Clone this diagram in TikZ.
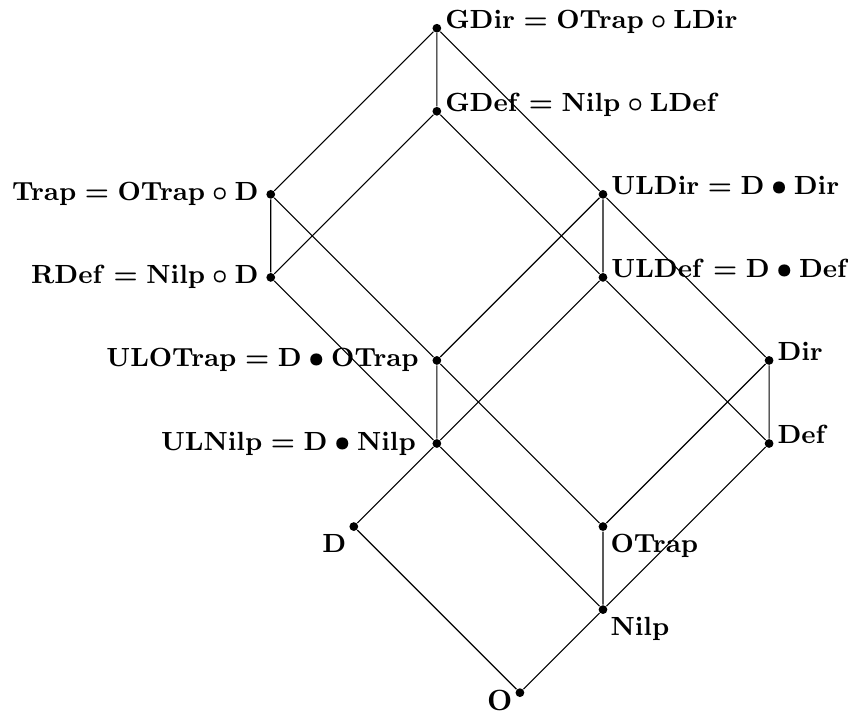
\documentclass[tikz,border=0pt]{standalone}
\tikzset{
  pt/.style={circle, fill, inner sep=0pt, minimum size=3pt},
  rlab/.style={anchor=base west, inner sep=1pt},
  llab/.style={inner sep=2.3pt},
  blab/.style={inner sep=1.2pt},
}
\begin{document}
\begin{tikzpicture}[x=1cm, y=1cm, every label/.style={font=\small\boldmath}]
  \useasboundingbox (-6.26,-0.265) rectangle (3.95,8.34);
  % the classes, bottom to top
  \node[pt, label={[blab, font=\normalsize\boldmath, yshift=3.5pt]below left:$\mathbf{O}$}] (O) at (0,0) {};
  \node[pt, label={[blab]below left:$\mathbf{D}$}] (D) at (-2,2) {};
  \node[pt, label={[blab]below right:$\mathbf{Nilp}$}] (Nilp) at (1,1) {};
  \node[pt, label={[blab]below right:$\mathbf{OTrap}$}] (OTrap) at (1,2) {};
  \node[pt, label={[llab, label distance=3pt]left:$\mathbf{ULNilp} = \mathbf{D} \bullet \mathbf{Nilp}$}] (ULNilp) at (-1,3) {};
  \node[pt, label={[llab, label distance=2pt]left:$\mathbf{ULOTrap} = \mathbf{D} \bullet \mathbf{OTrap}$}] (ULOTrap) at (-1,4) {};
  \node[pt, label={[rlab]right:$\mathbf{Def}$}] (Def) at (3,3) {};
  \node[pt, label={[rlab]right:$\mathbf{Dir}$}] (Dir) at (3,4) {};
  \node[pt, label={[llab]left:$\mathbf{RDef} = \mathbf{Nilp} \circ \mathbf{D}$}] (RDef) at (-3,5) {};
  \node[pt, label={[llab]left:$\mathbf{Trap} = \mathbf{OTrap} \circ \mathbf{D}$}] (Trap) at (-3,6) {};
  \node[pt, label={[rlab]right:$\mathbf{ULDef} = \mathbf{D} \bullet \mathbf{Def}$}] (ULDef) at (1,5) {};
  \node[pt, label={[rlab]right:$\mathbf{ULDir} = \mathbf{D} \bullet \mathbf{Dir}$}] (ULDir) at (1,6) {};
  \node[pt, label={[rlab]right:$\mathbf{GDef} = \mathbf{Nilp} \circ \mathbf{LDef}$}] (GDef) at (-1,7) {};
  \node[pt, label={[rlab]right:$\mathbf{GDir} = \mathbf{OTrap} \circ \mathbf{LDir}$}] (GDir) at (-1,8) {};
  % inclusions
  \draw (D) -- (O) -- (Nilp) -- (Def) -- (Dir) -- (OTrap) -- (Nilp);
  \draw (D) -- (ULNilp) -- (ULOTrap) -- (OTrap);
  \draw (Nilp) -- (ULNilp) -- (ULDef) -- (ULDir) -- (ULOTrap) -- (Trap) -- (RDef) -- (ULNilp);
  \draw (Def) -- (ULDef) -- (GDef) -- (GDir) -- (ULDir) -- (Dir);
  \draw (RDef) -- (GDef);
  \draw (Trap) -- (GDir);
\end{tikzpicture}
\end{document}
